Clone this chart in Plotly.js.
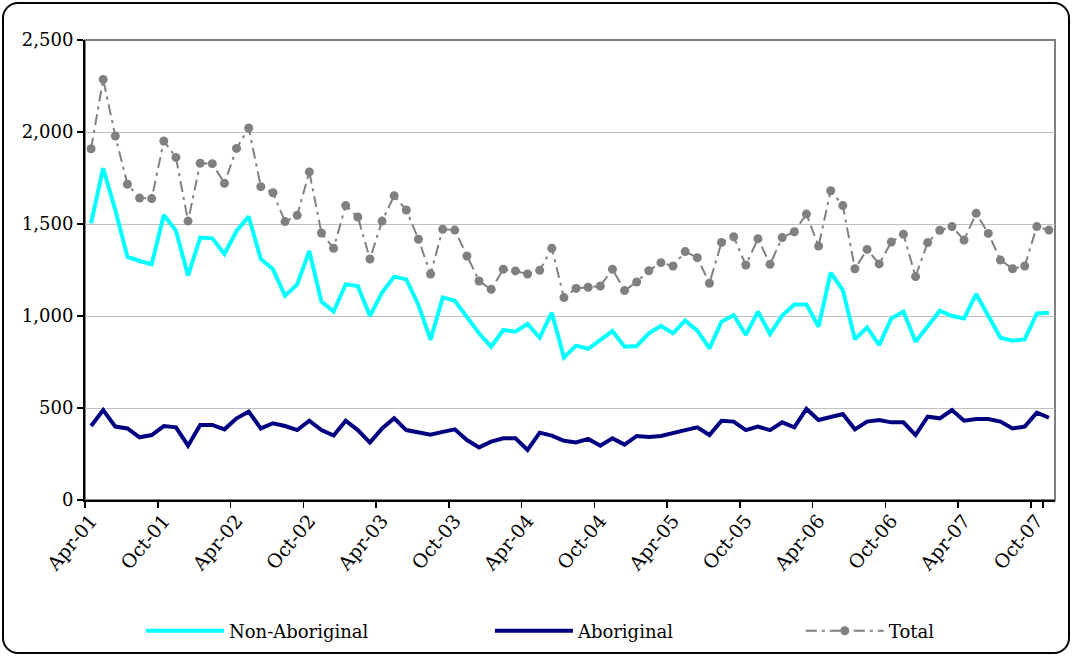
<!DOCTYPE html>
<html>
<head>
<meta charset="utf-8">
<script src="https://cdn.plot.ly/plotly-3.0.1.min.js"></script>
<style>
  html, body { margin: 0; padding: 0; background: #fff; overflow: hidden; }
  #wrap { position: relative; width: 1072px; height: 656px; }
  #chart { width: 1072px; height: 656px; }
  #frame { position: absolute; left: 2px; top: 2px; width: 1064px; height: 648px;
           border: 2px solid #000; border-radius: 16px; pointer-events: none; }
</style>
</head>
<body>
<div id="wrap">
  <div id="chart"></div>
  <div id="frame"></div>
</div>
<script>
const months = [
  "Apr-01","May-01","Jun-01","Jul-01","Aug-01","Sep-01","Oct-01","Nov-01","Dec-01","Jan-02","Feb-02","Mar-02",
  "Apr-02","May-02","Jun-02","Jul-02","Aug-02","Sep-02","Oct-02","Nov-02","Dec-02","Jan-03","Feb-03","Mar-03",
  "Apr-03","May-03","Jun-03","Jul-03","Aug-03","Sep-03","Oct-03","Nov-03","Dec-03","Jan-04","Feb-04","Mar-04",
  "Apr-04","May-04","Jun-04","Jul-04","Aug-04","Sep-04","Oct-04","Nov-04","Dec-04","Jan-05","Feb-05","Mar-05",
  "Apr-05","May-05","Jun-05","Jul-05","Aug-05","Sep-05","Oct-05","Nov-05","Dec-05","Jan-06","Feb-06","Mar-06",
  "Apr-06","May-06","Jun-06","Jul-06","Aug-06","Sep-06","Oct-06","Nov-06","Dec-06","Jan-07","Feb-07","Mar-07",
  "Apr-07","May-07","Jun-07","Jul-07","Aug-07","Sep-07","Oct-07","Nov-07"
];

const tickLabels = ["Apr-01","Oct-01","Apr-02","Oct-02","Apr-03","Oct-03","Apr-04","Oct-04",
                    "Apr-05","Oct-05","Apr-06","Oct-06","Apr-07","Oct-07"];

const nonAboriginal = [
  1504,1803,1576,1322,1299,1281,1549,1464,1219,1426,1422,1337,
  1462,1540,1310,1254,1109,1172,1353,1078,1024,1172,1163,1000,
  1127,1214,1199,1060,870,1101,1083,996,906,833,924,915,
  957,882,1018,775,839,822,873,918,833,837,906,946,
  906,975,920,824,969,1005,897,1024,902,1002,1063,1063,
  942,1236,1141,873,938,842,987,1024,860,942,1029,1000,
  987,1120,1005,882,866,873,1014,1018
];

const aboriginal = [
  402,489,399,389,341,353,402,395,295,408,408,384,
  444,480,389,417,402,380,431,380,350,431,380,312,
  389,444,380,366,355,370,384,326,286,317,335,335,
  272,366,350,322,313,332,295,335,301,348,342,348,
  366,380,395,353,431,426,380,399,380,422,395,495,
  435,449,467,384,426,435,422,422,353,453,444,489,
  431,440,440,426,389,399,475,447
];

const total = [
  1909,2286,1978,1716,1641,1638,1951,1862,1516,1830,1828,1721,
  1911,2022,1703,1670,1513,1547,1783,1451,1368,1600,1538,1310,
  1516,1654,1576,1417,1228,1471,1467,1326,1190,1145,1254,1245,
  1228,1248,1368,1100,1150,1156,1163,1254,1138,1185,1246,1290,
  1272,1350,1317,1178,1400,1431,1277,1420,1281,1426,1458,1554,
  1380,1681,1600,1257,1362,1283,1402,1444,1214,1399,1466,1486,
  1413,1558,1449,1304,1257,1272,1486,1467
];

const FONT = "DejaVu Serif";
const FS = 18;

const traces = [
  { x: months, y: nonAboriginal, name: "Non-Aboriginal", type: "scatter", mode: "lines",
    line: { color: "#00FFFF", width: 4 }, legend: "legend" },
  { x: months, y: aboriginal, name: "Aboriginal", type: "scatter", mode: "lines",
    line: { color: "#000080", width: 4 }, legend: "legend2" },
  { x: months, y: total, name: "Total", type: "scatter", mode: "lines+markers",
    line: { color: "#808080", width: 2, dash: "11px,5px,3px,5px" },
    marker: { symbol: "circle", size: 9, color: "#808080" }, legend: "legend3" }
];

function legendAt(x) {
  return {
    orientation: "h", xref: "container", yref: "container",
    x: x, xanchor: "left", y: 0.038, yanchor: "middle",
    font: { family: FONT, size: FS, color: "#000" },
    itemwidth: 78, bgcolor: "rgba(0,0,0,0)", borderwidth: 0
  };
}

const layout = {
  width: 1072, height: 656,
  margin: { l: 85, r: 17, t: 40, b: 156, pad: 0 },
  paper_bgcolor: "#ffffff", plot_bgcolor: "#ffffff",
  font: { family: FONT, size: FS, color: "#000" },
  showlegend: true,
  legend: legendAt(0.1315),
  legend2: legendAt(0.457),
  legend3: legendAt(0.747),
  xaxis: {
    type: "category", categoryorder: "array", categoryarray: months,
    range: [-0.5, months.length - 0.5], automargin: false,
    tickmode: "array", tickvals: tickLabels, ticktext: tickLabels,
    tickson: "boundaries", ticks: "outside", ticklen: 6, tickwidth: 1.5, tickcolor: "#000",
    tickangle: -50, tickfont: { family: FONT, size: 19, color: "#000" },
    showgrid: false, zeroline: false,
    showline: true, linecolor: "#000", linewidth: 2
  },
  yaxis: {
    range: [0, 2500], tickmode: "linear", tick0: 0, dtick: 500, tickformat: ",",
    automargin: false,
    ticks: "outside", ticklen: 6, tickwidth: 1.5, tickcolor: "#000",
    tickfont: { family: FONT, size: FS, color: "#000" },
    showgrid: true, gridcolor: "#c0c0c0", gridwidth: 1,
    zeroline: false, showline: true, linecolor: "#000", linewidth: 2
  },
  shapes: [
    { type: "rect", xref: "paper", yref: "paper", x0: 0, x1: 1, y0: 0, y1: 1,
      line: { color: "#808080", width: 2 }, layer: "below" }
  ]
};

Plotly.newPlot("chart", traces, layout, { displayModeBar: false, staticPlot: true });
</script>
</body>
</html>
